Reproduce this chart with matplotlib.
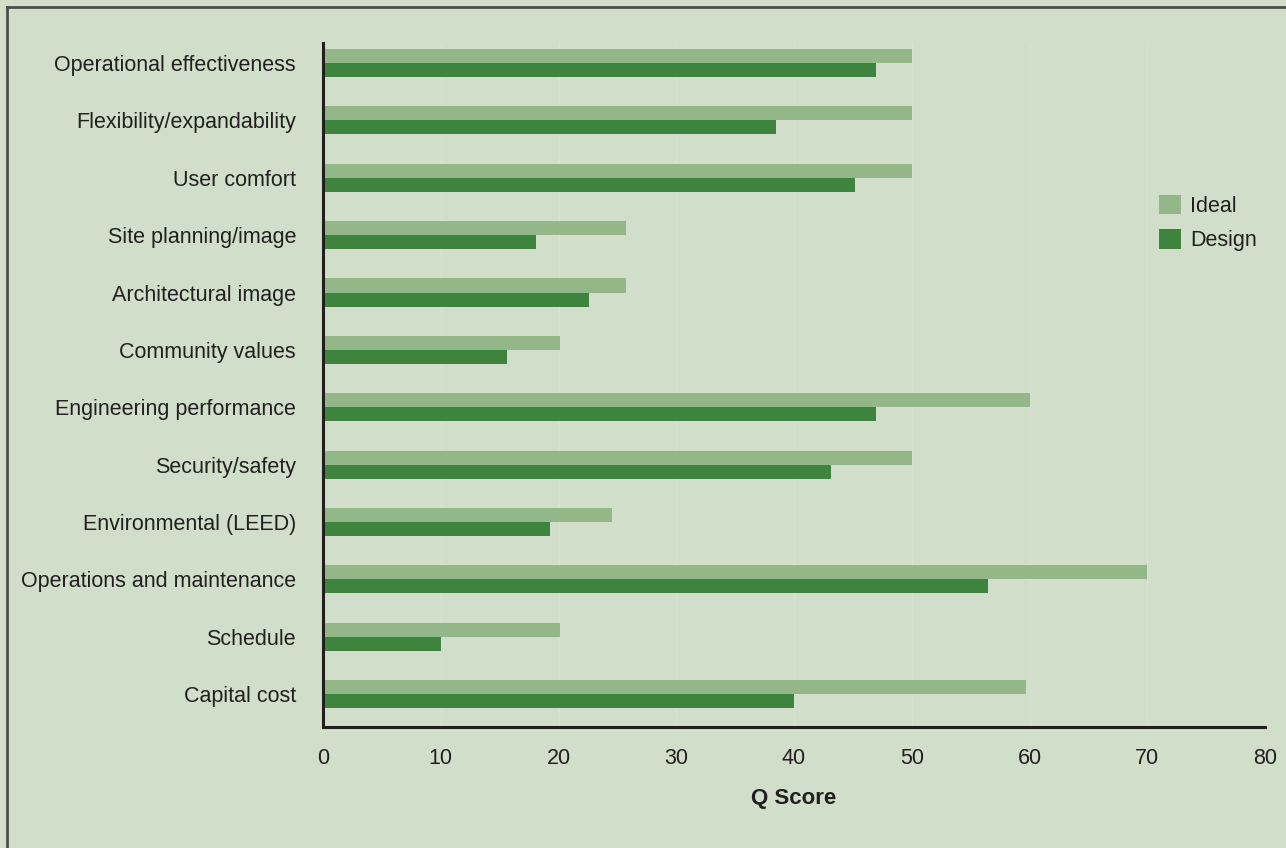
import matplotlib.pyplot as plt
from matplotlib.lines import Line2D
import numpy as np

plt.rcParams['font.family'] = ['Liberation Sans', 'DejaVu Sans']

categories = [
    'Operational effectiveness',
    'Flexibility/expandability',
    'User comfort',
    'Site planning/image',
    'Architectural image',
    'Community values',
    'Engineering performance',
    'Security/safety',
    'Environmental (LEED)',
    'Operations and maintenance',
    'Schedule',
    'Capital cost',
]
ideal = [50, 50, 50, 25.7, 25.7, 20.1, 60, 50, 24.5, 70, 20.1, 59.7]
design = [47, 38.5, 45.2, 18.1, 22.6, 15.6, 47, 43.1, 19.3, 56.5, 10, 40]
xticks = [0, 10, 20, 30, 40, 50, 60, 70, 80]

bg = '#d1dec9'
c_ideal = '#94b789'
c_design = '#3f843e'
ink = '#231f20'

fig = plt.figure(figsize=(12.86, 8.48), dpi=100, facecolor=bg)
ax = fig.add_axes([0.2512, 0.1427, 0.7325, 0.8066])
ax.set_facecolor(bg)

y = np.arange(len(categories))
h = 0.245
ax.barh(y - h / 2, ideal, height=h, color=c_ideal, label='Ideal')
ax.barh(y + h / 2, design, height=h, color=c_design, label='Design')

ax.set_xlim(0, 80)
ax.set_ylim(11.575, -0.35)
ax.set_xticks(xticks)
ax.set_yticks(y)
ax.set_yticklabels(categories)
ax.tick_params(axis='both', length=0, labelsize=15.5, colors=ink)
ax.tick_params(axis='y', pad=19.4)
ax.tick_params(axis='x', pad=15)

# faint vertical guides
for t in xticks[1:]:
    ax.axvline(t, color='#d5e3d0', lw=1, zorder=0)

for side in ['top', 'right']:
    ax.spines[side].set_visible(False)
for side in ['left', 'bottom']:
    ax.spines[side].set_linewidth(2.2)
    ax.spines[side].set_color(ink)

ax.set_xlabel('Q Score', fontsize=16, fontweight='bold', color=ink, labelpad=13.6)

leg = ax.legend(loc='upper left', bbox_to_anchor=(0.8786, 0.791), frameon=False,
                fontsize=15.5, handlelength=1.0, handleheight=1.0,
                handletextpad=0.42, labelspacing=0.6, borderaxespad=0)
for txt in leg.get_texts():
    txt.set_color(ink)

# partial frame along the top and left edges
fig.add_artist(Line2D([7 / 1286, 7 / 1286], [0, 1 - 7 / 848],
                      transform=fig.transFigure, color='#4a5048', lw=2))
fig.add_artist(Line2D([7 / 1286, 1], [1 - 7 / 848, 1 - 7 / 848],
                      transform=fig.transFigure, color='#4a5048', lw=2))

fig.savefig('out.png', dpi=100, facecolor=bg)
